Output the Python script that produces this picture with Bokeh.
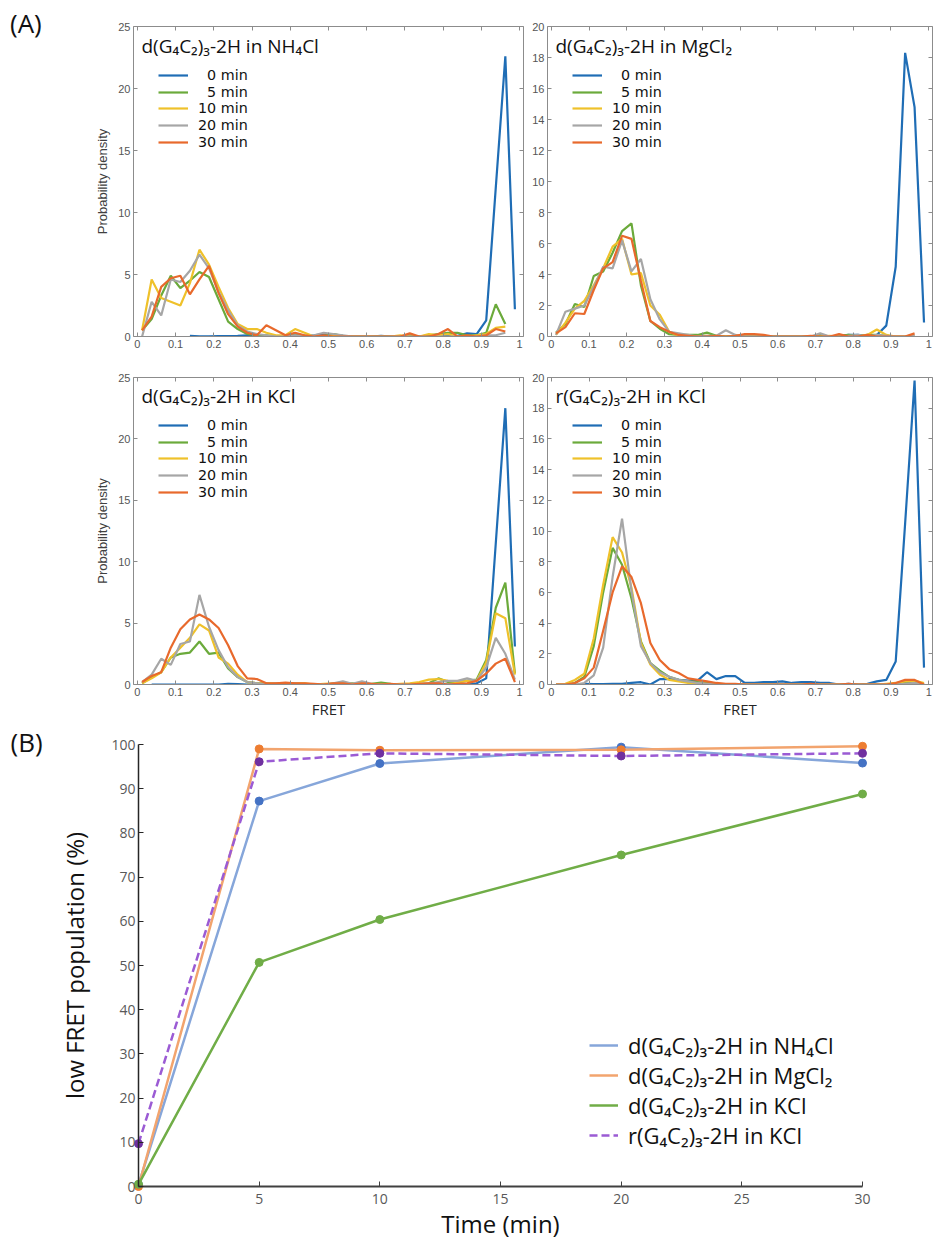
import math
from bokeh.plotting import figure
from bokeh.models import (Range1d, LinearAxis, FixedTicker, Legend, LegendItem, Label,
                          CustomJSTickFormatter, Div, Spacer)
from bokeh.layouts import column, row
from bokeh.embed import file_html
from bokeh.resources import INLINE

NaN = float("nan")

# ---------------- Panel A data (FRET histograms) ----------------
fret = [0.0125, 0.0375, 0.0625, 0.0875, 0.1125, 0.1375, 0.1625, 0.1875, 0.2125, 0.2375,
        0.2625, 0.2875, 0.3125, 0.3375, 0.3625, 0.3875, 0.4125, 0.4375, 0.4625, 0.4875,
        0.5125, 0.5375, 0.5625, 0.5875, 0.6125, 0.6375, 0.6625, 0.6875, 0.7125, 0.7375,
        0.7625, 0.7875, 0.8125, 0.8375, 0.8625, 0.8875, 0.9125, 0.9375, 0.9625, 0.9875]
fret_ticks = [0, 0.1, 0.2, 0.3, 0.4, 0.5, 0.6, 0.7, 0.8, 0.9, 1.0]
yticks_25 = [0, 5, 10, 15, 20, 25]
yticks_20 = [0, 2, 4, 6, 8, 10, 12, 14, 16, 18, 20]
time_labels = ["\u20070 min", "\u20075 min", "10 min", "20 min", "30 min"]

# d(G4C2)3-2H in NH4Cl
nh4_0 = [NaN, NaN, NaN, NaN, NaN, 0.05, 0.02, 0.02, 0.03, 0.03,
         0.05, 0.1, 0.05, 0.0, 0.0, 0.05, 0.1, 0.05, 0.1, 0.2,
         0.15, 0.05, 0.0, 0.0, 0.0, 0.05, 0.0, 0.0, 0.0, 0.0,
         0.0, 0.0, 0.05, 0.05, 0.25, 0.2, 1.3, 12.0, 22.6, 2.2]
nh4_5 = [0.5, 1.4, 3.3, 4.9, 3.9, 4.5, 5.2, 4.8, 3.0, 1.2,
         0.6, 0.2, 0.1, 0.1, 0.0, 0.05, 0.1, 0.05, 0.0, 0.05,
         0.2, 0.05, 0.0, 0.0, 0.0, 0.0, 0.0, 0.0, 0.1, 0.0,
         0.1, 0.2, 0.3, 0.3, 0.1, 0.1, 0.3, 2.6, 1.0, NaN]
nh4_10 = [0.5, 4.6, 3.1, 2.8, 2.5, 4.3, 7.0, 5.8, 4.0, 2.3,
          1.0, 0.6, 0.6, 0.3, 0.1, 0.1, 0.6, 0.3, 0.0, 0.0,
          0.1, 0.0, 0.0, 0.0, 0.0, 0.0, 0.0, 0.1, 0.0, 0.0,
          0.2, 0.1, 0.2, 0.0, 0.0, 0.1, 0.2, 0.7, 0.8, NaN]
nh4_20 = [0.0, 2.8, 1.7, 4.6, 4.4, 5.3, 6.6, 5.5, 3.6, 2.1,
          0.9, 0.4, 0.2, 0.1, 0.0, 0.0, 0.1, 0.0, 0.1, 0.3,
          0.2, 0.1, 0.0, 0.0, 0.0, 0.0, 0.0, 0.0, 0.0, 0.0,
          0.0, 0.0, 0.0, 0.0, 0.0, 0.0, 0.1, 0.1, 0.3, NaN]
nh4_30 = [0.5, 1.6, 4.0, 4.7, 4.9, 3.4, 4.6, 5.7, 3.5, 1.8,
          0.8, 0.3, 0.1, 0.9, 0.5, 0.1, 0.3, 0.1, 0.0, 0.1,
          0.0, 0.0, 0.0, 0.0, 0.0, 0.0, 0.0, 0.0, 0.25, 0.0,
          0.0, 0.2, 0.6, 0.0, 0.1, 0.0, 0.1, 0.6, 0.4, NaN]

# d(G4C2)3-2H in MgCl2
mg_0 = [NaN, NaN, NaN, NaN, NaN, NaN, NaN, NaN, NaN, NaN,
        NaN, NaN, NaN, NaN, 0.0, 0.0, 0.0, 0.0, 0.0, 0.0,
        0.0, 0.0, 0.0, 0.0, 0.0, 0.0, 0.0, 0.0, 0.0, 0.0,
        0.05, 0.1, 0.1, 0.05, 0.1, 0.7, 4.5, 18.3, 14.8, 0.9]
mg_5 = [0.25, 0.8, 2.1, 1.9, 3.9, 4.2, 5.4, 6.8, 7.3, 3.3,
        1.0, 0.5, 0.15, 0.1, 0.1, 0.1, 0.25, 0.05, 0.0, 0.05,
        0.0, 0.0, 0.0, 0.0, 0.0, 0.0, 0.0, 0.0, 0.1, 0.0,
        0.05, 0.1, 0.05, 0.1, 0.1, 0.05, 0.0, 0.0, 0.0, NaN]
mg_10 = [0.1, 0.9, 1.8, 2.3, 3.3, 4.4, 5.8, 6.3, 4.0, 4.1,
         2.0, 1.4, 0.3, 0.05, 0.0, 0.0, 0.05, 0.0, 0.0, 0.0,
         0.0, 0.0, 0.0, 0.0, 0.0, 0.0, 0.0, 0.0, 0.0, 0.05,
         0.0, 0.0, 0.0, 0.1, 0.45, 0.1, 0.0, 0.0, 0.0, NaN]
mg_20 = [0.1, 1.6, 1.8, 2.0, 3.2, 4.5, 4.4, 6.2, 4.2, 5.0,
         2.4, 1.1, 0.3, 0.2, 0.1, 0.0, 0.05, 0.05, 0.4, 0.1,
         0.0, 0.0, 0.0, 0.0, 0.0, 0.0, 0.0, 0.0, 0.2, 0.0,
         0.0, 0.05, 0.1, 0.0, 0.1, 0.05, 0.0, 0.0, 0.1, NaN]
mg_30 = [0.2, 0.6, 1.5, 1.45, 3.0, 4.4, 4.8, 6.5, 6.3, 3.6,
         1.0, 0.6, 0.3, 0.1, 0.05, 0.0, 0.0, 0.05, 0.0, 0.05,
         0.15, 0.15, 0.1, 0.0, 0.0, 0.0, 0.0, 0.05, 0.0, 0.0,
         0.15, 0.0, 0.0, 0.1, 0.0, 0.0, 0.0, 0.0, 0.2, NaN]

# d(G4C2)3-2H in KCl
kcl_0 = [NaN, 0.0, 0.0, 0.0, 0.0, 0.0, 0.0, 0.0, 0.0, 0.05,
         0.03, 0.0, 0.0, 0.0, 0.0, 0.0, 0.0, 0.0, 0.0, 0.0,
         0.0, 0.0, 0.0, 0.0, 0.0, 0.0, 0.0, 0.0, 0.0, 0.0,
         0.0, 0.0, 0.0, 0.0, 0.0, 0.1, 0.5, 11.5, 22.5, 3.1]
kcl_5 = [0.1, 0.6, 1.0, 2.2, 2.5, 2.6, 3.5, 2.5, 2.6, 1.3,
         0.6, 0.2, 0.1, 0.1, 0.05, 0.1, 0.1, 0.05, 0.0, 0.0,
         0.05, 0.1, 0.1, 0.0, 0.05, 0.15, 0.05, 0.0, 0.0, 0.05,
         0.1, 0.5, 0.2, 0.2, 0.3, 0.4, 2.0, 6.25, 8.3, 0.9]
kcl_10 = [0.1, 0.5, 1.0, 2.2, 3.0, 3.8, 4.9, 4.4, 2.2, 1.7,
          0.8, 0.2, 0.1, 0.05, 0.1, 0.05, 0.1, 0.1, 0.0, 0.05,
          0.1, 0.1, 0.05, 0.1, 0.0, 0.0, 0.0, 0.05, 0.1, 0.2,
          0.4, 0.45, 0.3, 0.2, 0.3, 0.3, 1.8, 5.8, 5.4, 0.8]
kcl_20 = [0.2, 0.8, 2.1, 1.6, 3.3, 3.5, 7.3, 4.7, 2.8, 1.4,
          0.6, 0.2, 0.1, 0.0, 0.1, 0.1, 0.1, 0.0, 0.0, 0.0,
          0.1, 0.25, 0.05, 0.25, 0.05, 0.0, 0.0, 0.0, 0.0, 0.0,
          0.1, 0.2, 0.3, 0.3, 0.5, 0.3, 1.4, 3.8, 2.5, 0.4]
kcl_30 = [0.2, 0.7, 1.0, 3.0, 4.5, 5.3, 5.7, 5.3, 4.6, 3.2,
          1.5, 0.5, 0.45, 0.1, 0.1, 0.15, 0.1, 0.1, 0.05, 0.0,
          0.1, 0.1, 0.0, 0.1, 0.05, 0.0, 0.05, 0.0, 0.0, 0.05,
          0.1, 0.1, 0.0, 0.05, 0.1, 0.3, 0.9, 1.7, 2.1, 0.2]

# r(G4C2)3-2H in KCl
rna_0 = [NaN, NaN, NaN, 0.05, 0.02, 0.03, 0.05, 0.05, 0.1, 0.15,
         0.0, 0.35, 0.35, 0.3, 0.25, 0.25, 0.8, 0.35, 0.55, 0.55,
         0.1, 0.1, 0.15, 0.15, 0.2, 0.1, 0.15, 0.15, 0.1, 0.1,
         0.0, 0.05, 0.0, 0.05, 0.2, 0.3, 1.5, 10.5, 19.8, 1.1]
rna_5 = [0.0, 0.0, 0.1, 0.5, 2.5, 6.0, 8.9, 7.8, 5.6, 2.8,
         1.4, 0.9, 0.5, 0.3, 0.2, 0.15, 0.1, 0.05, 0.0, 0.0,
         0.0, 0.0, 0.0, 0.0, 0.0, 0.0, 0.0, 0.0, 0.0, 0.0,
         0.0, 0.0, 0.0, 0.0, 0.0, 0.0, 0.05, 0.1, 0.1, 0.0]
rna_10 = [0.0, 0.05, 0.3, 0.7, 3.0, 6.5, 9.6, 8.6, 6.3, 2.7,
          1.3, 0.65, 0.3, 0.2, 0.1, 0.05, 0.05, 0.0, 0.0, 0.0,
          0.0, 0.0, 0.0, 0.0, 0.0, 0.0, 0.0, 0.0, 0.0, 0.0,
          0.0, 0.0, 0.0, 0.0, 0.0, 0.05, 0.1, 0.2, 0.25, 0.1]
rna_20 = [0.0, 0.0, 0.0, 0.1, 0.6, 2.4, 7.0, 10.8, 6.1, 2.5,
          1.4, 0.8, 0.5, 0.3, 0.2, 0.1, 0.05, 0.0, 0.0, 0.0,
          0.0, 0.0, 0.0, 0.0, 0.0, 0.0, 0.0, 0.0, 0.0, 0.0,
          0.0, 0.0, 0.0, 0.0, 0.0, 0.0, 0.0, 0.05, 0.1, 0.0]
rna_30 = [0.0, 0.0, 0.1, 0.4, 1.1, 3.5, 6.0, 7.7, 7.0, 5.3,
          2.7, 1.6, 1.0, 0.75, 0.4, 0.3, 0.2, 0.1, 0.05, 0.05,
          0.0, 0.0, 0.0, 0.0, 0.0, 0.0, 0.0, 0.05, 0.0, 0.0,
          0.0, 0.05, 0.0, 0.0, 0.0, 0.0, 0.1, 0.3, 0.3, 0.0]

# ---------------- Panel B data ----------------
time_min = [0, 5, 10, 20, 30]
time_ticks = [0, 5, 10, 15, 20, 25, 30]
pct_ticks = [0, 10, 20, 30, 40, 50, 60, 70, 80, 90, 100]
low_nh4cl = [0.4, 87.2, 95.7, 99.4, 95.8]
low_mgcl2 = [0.0, 99.0, 98.7, 98.8, 99.6]
low_kcl = [0.5, 50.7, 60.4, 75.0, 88.8]
low_rna_kcl = [9.7, 96.1, 98.0, 97.4, 98.0]

name_nh4 = "d(G\u2084C\u2082)\u2083-2H in NH\u2084Cl"
name_mg = "d(G\u2084C\u2082)\u2083-2H in MgCl\u2082"
name_kcl = "d(G\u2084C\u2082)\u2083-2H in KCl"
name_rna = "r(G\u2084C\u2082)\u2083-2H in KCl"

# ---------------- styles ----------------
HIST_COLORS = ["#1F6DB5", "#6BAA3B", "#EFC12A", "#A6A6A6", "#E8692C"]
AX_GRAY = "#8c8c8c"
TICK_GRAY = "#555555"
LEG_FONT = "DejaVu Sans"
LEG_SIZE = 14.3
LEG_FONT_H = LEG_SIZE * 1.164   # legend row height produced by this font
LEG_C0 = 48.5                   # first legend row centre, px below frame top
LEG_PITCH = 16.75


def style_axis(ax, color, label_color, font, size, tick_in, standoff):
    ax.axis_line_color = color
    ax.major_tick_line_color = color
    ax.minor_tick_line_color = None
    ax.major_tick_in = tick_in
    ax.major_tick_out = 0
    ax.major_label_text_color = label_color
    ax.major_label_text_font = font
    ax.major_label_text_font_size = size
    ax.major_label_standoff = standoff


def hist_panel(title, curves, ymax, yticks, width, height, mbl, mbr, mbt, mbb,
               xlabel=None, ylabel=None):
    frame_h = height - mbt - mbb
    p = figure(width=width, height=height, x_range=Range1d(-0.01, 1.01),
               y_range=Range1d(0, ymax), output_backend="svg", toolbar_location=None,
               min_border_left=mbl, min_border_right=mbr, min_border_top=mbt,
               min_border_bottom=mbb)
    p.xgrid.visible = False
    p.ygrid.visible = False
    p.outline_line_color = None
    p.xaxis.ticker = FixedTicker(ticks=fret_ticks)
    p.xaxis.formatter = CustomJSTickFormatter(code="return String(Math.round(tick*10)/10);")
    p.yaxis.ticker = FixedTicker(ticks=yticks)
    for ax in (p.xaxis[0], p.yaxis[0]):
        style_axis(ax, AX_GRAY, TICK_GRAY, "Liberation Sans", "11px", 4, 3)
    if xlabel:
        p.xaxis.axis_label = xlabel
        p.xaxis.axis_label_text_font = "Open Sans"
        p.xaxis.axis_label_text_font_style = "normal"
        p.xaxis.axis_label_text_font_size = "15px"
        p.xaxis.axis_label_text_color = "#262626"
        p.xaxis.axis_label_standoff = 0
    if ylabel:
        p.yaxis.axis_label = ylabel
        p.yaxis.axis_label_text_font = "Liberation Sans"
        p.yaxis.axis_label_text_font_style = "normal"
        p.yaxis.axis_label_text_font_size = "13px"
        p.yaxis.axis_label_text_color = "#404040"
        p.yaxis.axis_label_standoff = 5
    top = LinearAxis(ticker=FixedTicker(ticks=fret_ticks),
                     formatter=CustomJSTickFormatter(code="return '';"))
    right = LinearAxis(ticker=FixedTicker(ticks=yticks),
                       formatter=CustomJSTickFormatter(code="return '';"))
    for ax in (top, right):
        style_axis(ax, AX_GRAY, TICK_GRAY, "Liberation Sans", "1px", 4, 0)
    p.add_layout(top, "above")
    p.add_layout(right, "right")

    for i, (lab, vals, col) in enumerate(curves):
        r = p.line(fret, vals, line_color=col, line_width=2.2)
        c = LEG_C0 + LEG_PITCH * i
        leg = Legend(items=[LegendItem(label=lab, renderers=[r])],
                     location=(25, frame_h - c - LEG_FONT_H / 2), padding=0, margin=0,
                     spacing=0, glyph_width=30, glyph_height=14, label_height=14,
                     label_standoff=10, label_text_font=LEG_FONT,
                     label_text_font_size=f"{LEG_SIZE}px", label_text_color="#111111",
                     border_line_color=None, background_fill_alpha=0)
        p.add_layout(leg)
    p.add_layout(Label(x=8, y=frame_h - 19, x_units="screen", y_units="screen",
                       text=title, text_font="Open Sans", text_font_size="19px",
                       text_baseline="alphabetic", text_color="#111111"))
    return p


def curves_for(series):
    return [(time_labels[i], series[i], HIST_COLORS[i]) for i in range(5)]


# Row 1: frames y 26..336 ; Row 2: frames y 377..685 (page has no margin)
tl = hist_panel(name_nh4, curves_for([nh4_0, nh4_5, nh4_10, nh4_20, nh4_30]), 25, yticks_25,
                479, 352, 83, 6, 26, 16, ylabel="Probability density")
tr = hist_panel(name_mg, curves_for([mg_0, mg_5, mg_10, mg_20, mg_30]), 20, yticks_20,
                405, 352, 18, 2, 26, 16)
bl = hist_panel(name_kcl, curves_for([kcl_0, kcl_5, kcl_10, kcl_20, kcl_30]), 25, yticks_25,
                479, 369, 83, 6, 25, 36, xlabel="FRET", ylabel="Probability density")
br = hist_panel(name_rna, curves_for([rna_0, rna_5, rna_10, rna_20, rna_30]), 20, yticks_20,
                405, 369, 18, 2, 25, 36, xlabel="FRET")

label_a = Div(text="<div style=\"font-family:'Open Sans';font-size:26px;line-height:26px;"
                   "color:#111;margin:10px 0 0 10px;\">(A)</div>",
              width=50, height=352, margin=(0, 0, 0, 0))
spacer_a = Spacer(width=50, height=369, margin=(0, 0, 0, 0))

# ---------------- Panel B ----------------
PB_W, PB_H = 934, 524
PB_TOP = 721
X0_PX, X30_PX = 138, 862
Y100_PX, Y0_PX = 744, 1186
sx = (X30_PX - X0_PX) / 30.0
sy = (Y0_PX - Y100_PX) / 100.0
pb = figure(width=PB_W, height=PB_H,
            x_range=Range1d(-X0_PX / sx, 30 + (PB_W - X30_PX) / sx),
            y_range=Range1d(-(PB_TOP + PB_H - Y0_PX) / sy, 100 + (Y100_PX - PB_TOP) / sy),
            output_backend="svg", toolbar_location=None,
            min_border_left=0, min_border_right=0, min_border_top=0, min_border_bottom=0)
pb.xgrid.visible = False
pb.ygrid.visible = False
pb.outline_line_color = None
pb.xaxis.ticker = FixedTicker(ticks=time_ticks)
pb.yaxis.ticker = FixedTicker(ticks=pct_ticks)
style_axis(pb.xaxis[0], "#404040", "#595959", "Open Sans", "14px", 5, 7)
style_axis(pb.yaxis[0], "#262626", "#595959", "Open Sans", "14px", 5, 3)
pb.xaxis.axis_line_width = 2
pb.yaxis.axis_line_width = 1.5
pb.xaxis.fixed_location = 0
pb.yaxis.fixed_location = 0
pb.xaxis.bounds = (0, 30)
pb.yaxis.bounds = (0, 100)
pb.xaxis.axis_label = "Time (min)"
pb.yaxis.axis_label = "low FRET population (%)"
for ax in (pb.xaxis[0], pb.yaxis[0]):
    ax.axis_label_text_font = "Open Sans"
    ax.axis_label_text_font_style = "normal"
    ax.axis_label_text_font_size = "24px"
    ax.axis_label_text_color = "#111111"
pb.xaxis.axis_label_standoff = 0
pb.yaxis.axis_label_standoff = 17

b_series = [
    (name_nh4, low_nh4cl, "#86A6DA", "#4472C4", "solid"),
    (name_mg, low_mgcl2, "#F2A46E", "#ED7D31", "solid"),
    (name_kcl, low_kcl, "#70AD47", "#70AD47", "solid"),
    (name_rna, low_rna_kcl, "#9B5BD4", "#7030A0", "8 4"),
]
b_items = []
for lab, vals, lc, mc, dash in b_series:
    r = pb.line(time_min, vals, line_color=lc, line_width=2.5, line_dash=dash)
    pb.scatter(time_min, vals, size=8, fill_color=mc, line_color=mc)
    b_items.append(LegendItem(label=lab, renderers=[r]))
b_leg = Legend(items=b_items, location=(589, PB_TOP + PB_H - 1150), padding=0, margin=0,
               spacing=0, glyph_width=29, glyph_height=20, label_standoff=10,
               label_text_font="Open Sans", label_text_font_size="22px",
               label_text_color="#111111", border_line_color=None, background_fill_alpha=0)
pb.add_layout(b_leg)
pb.add_layout(Label(x=10, y=PB_TOP + PB_H - 741, x_units="screen", y_units="screen",
                    text="(B)", text_font="Open Sans", text_font_size="26px",
                    text_baseline="alphabetic", text_color="#111111"))

layout = column(row(label_a, tl, tr), row(spacer_a, bl, br), pb)
open("out.html", "w").write(file_html(layout, INLINE))
